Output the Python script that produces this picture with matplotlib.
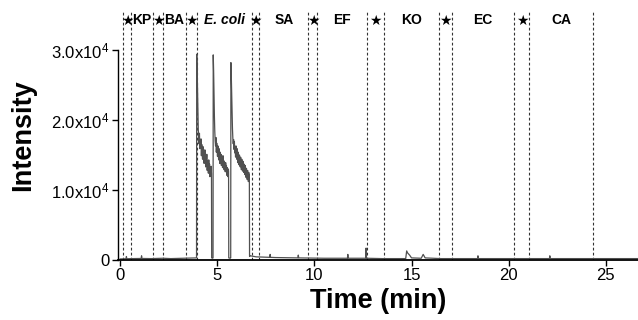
import numpy as np
import matplotlib
matplotlib.use('Agg')
import matplotlib.pyplot as plt
import matplotlib.transforms as mtransforms

plt.rcParams['font.family'] = ['Liberation Sans', 'DejaVu Sans']
plt.rcParams['mathtext.fontset'] = 'custom'
plt.rcParams['mathtext.rm'] = 'Liberation Sans'
plt.rcParams['mathtext.it'] = 'Liberation Sans:italic'

# chromatogram trace (time in min, intensity)
time_pre = [0.00, 0.30, 0.32, 0.34, 0.60, 1.08, 1.10, 1.12, 1.60, 2.20, 2.60, 3.00, 3.40, 3.90, 3.93]
int_pre = [150, 180, 500, 180, 200, 220, 600, 220, 200, 250, 200, 230, 250, 300, 300]

time_p1 = [3.94, 3.96, 3.98, 4.00, 4.02, 4.04, 4.06, 4.08, 4.10, 4.12, 4.14, 4.16, 4.18, 4.20,
           4.22, 4.24, 4.26, 4.28, 4.30, 4.32, 4.34, 4.36, 4.38, 4.40, 4.42, 4.44, 4.46, 4.48,
           4.50, 4.52, 4.54, 4.56, 4.58, 4.60, 4.62, 4.64, 4.66, 4.68, 4.70]
int_p1 = [29400, 27600, 24500, 21000, 18600, 17900, 16600, 18100, 15900, 16900, 16200, 17300, 14900, 16500,
          15300, 14400, 16200, 14900, 15800, 13800, 15000, 14200, 15700, 13300, 14600, 13900, 15100, 12800,
          14200, 13500, 12400, 14300, 12900, 13700, 11900, 13100, 12600, 13400, 12300]

time_gap1 = [4.71, 4.76, 4.78]
int_gap1 = [300, 250, 300]

time_p2 = [4.79, 4.81, 4.83, 4.85, 4.87, 4.89, 4.91, 4.93, 4.95, 4.97, 4.99, 5.01, 5.03, 5.05,
           5.07, 5.09, 5.11, 5.13, 5.15, 5.17, 5.19, 5.21, 5.23, 5.25, 5.27, 5.29, 5.31, 5.33,
           5.35, 5.37, 5.39, 5.41, 5.43, 5.45, 5.47, 5.49, 5.51, 5.53, 5.55, 5.57, 5.58]
int_p2 = [29300, 27000, 23800, 20600, 18400, 17000, 16300, 17500, 15400, 16700, 15900, 14800, 16300, 15100,
          14300, 15900, 14700, 13800, 15400, 14400, 15100, 13500, 14800, 13900, 13200, 14900, 13600, 14200,
          12900, 14000, 13300, 12600, 13900, 12800, 13500, 12100, 13200, 12700, 11900, 13000, 12600]

time_gap2 = [5.59, 5.66, 5.69]
int_gap2 = [300, 250, 300]

time_p3 = [5.70, 5.72, 5.74, 5.76, 5.78, 5.80, 5.82, 5.84, 5.86, 5.88, 5.90, 5.92, 5.94, 5.96,
           5.98, 6.00, 6.02, 6.04, 6.06, 6.08, 6.10, 6.12, 6.14, 6.16, 6.18, 6.20, 6.22, 6.24,
           6.26, 6.28, 6.30, 6.32, 6.34, 6.36, 6.38, 6.40, 6.42, 6.44, 6.46, 6.48, 6.50, 6.52,
           6.54, 6.56, 6.58, 6.60, 6.62, 6.64, 6.65]
int_p3 = [28200, 26300, 23600, 20900, 18800, 17400, 16600, 17200, 15800, 16900, 15300, 16100, 14700, 16300,
          15200, 14400, 15900, 14800, 13900, 15400, 14500, 13600, 15000, 14100, 13300, 14700, 13800, 12900,
          14400, 13400, 12700, 14100, 13200, 12500, 13700, 12900, 12200, 13500, 12600, 11800, 13100, 12300,
          11500, 12800, 11900, 11200, 12500, 11400, 12100]

time_post = [6.66, 6.70, 7.00, 7.50, 7.70, 7.72, 7.74, 8.00, 9.15, 9.17, 9.19, 10.50, 11.70, 11.72,
             11.74, 12.64, 12.66, 12.68, 13.50, 14.70, 14.75, 14.80, 14.90, 15.00, 15.50, 15.60, 15.70,
             16.50, 18.40, 18.42, 18.44, 20.00, 22.10, 22.12, 22.14, 24.00, 26.70]
int_post = [500, 600, 450, 400, 380, 800, 380, 350, 300, 700, 300, 250, 250, 800,
            250, 250, 1700, 250, 200, 200, 1300, 1000, 700, 300, 250, 800, 300,
            200, 200, 600, 200, 200, 200, 600, 200, 200, 200]

# dashed separators (min) and labels between them
sep_times = [0.16, 0.57, 1.70, 2.20, 3.40, 3.93, 6.77, 7.15, 9.69, 10.15, 12.70, 13.58,
             16.39, 17.07, 20.29, 21.07, 24.36]
seg_labels = ['\u2605', 'KP', '\u2605', 'BA', '\u2605', 'E. coli', '\u2605', 'SA', '\u2605', 'EF',
              '\u2605', 'KO', '\u2605', 'EC', '\u2605', 'CA']

y_ticks = [0, 10000, 20000, 30000]
y_ticklabels = ['0', r'1.0x10$^{4}$', r'2.0x10$^{4}$', r'3.0x10$^{4}$']
x_ticks = [0, 5, 10, 15, 20, 25]

t = np.array(time_pre + time_p1 + time_gap1 + time_p2 + time_gap2 + time_p3 + time_post)
inten = np.array(int_pre + int_p1 + int_gap1 + int_p2 + int_gap2 + int_p3 + int_post)

fig = plt.figure(figsize=(6.38, 3.2), dpi=100)
ax = fig.add_axes([118/638, 60/320, 520/638, 249/320])

for s in sep_times:
    ax.axvline(s, color='#333333', lw=0.8, linestyle=(0, (2.5, 2)), zorder=1)

ax.plot(t, inten, color='#505050', lw=0.9, zorder=2)

ax.set_xlim(-0.113, 26.66)
ax.set_ylim(0, 35570)
ax.spines['top'].set_visible(False)
ax.spines['right'].set_visible(False)
ax.spines['left'].set_bounds(0, 30000)
ax.spines['bottom'].set_linewidth(1.3)
ax.spines['left'].set_linewidth(1.0)

ax.set_yticks(y_ticks)
ax.set_yticklabels(y_ticklabels)
ax.set_xticks(x_ticks)
ax.tick_params(axis='both', direction='out', length=4, width=1, labelsize=12, pad=2)

ax.set_xlabel('Time (min)', fontsize=19.5, fontweight='bold', labelpad=3)
ax.set_ylabel('Intensity', fontsize=19.5, fontweight='bold', labelpad=11)

trans = mtransforms.blended_transform_factory(ax.transData, ax.transAxes)
for i, lab in enumerate(seg_labels):
    xm = (sep_times[i] + sep_times[i + 1]) / 2
    style = 'italic' if lab == 'E. coli' else 'normal'
    ax.text(xm, 0.962, lab, transform=trans, ha='center', va='center',
            fontsize=10, fontweight='bold', fontstyle=style,
            family=['Liberation Sans', 'DejaVu Sans'])

fig.savefig('out.png', dpi=100)
